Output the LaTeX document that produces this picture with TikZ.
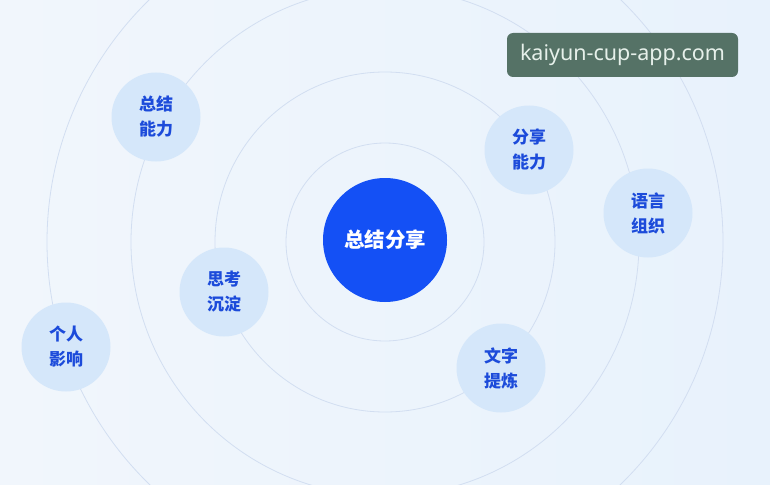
\documentclass[tikz,border=0pt]{standalone}
\usepackage{fontspec}
\setmainfont{Noto Sans}
\newfontfamily\cjk{Noto Sans CJK SC}
\usetikzlibrary{shapes.geometric}
\definecolor{bgA}{HTML}{F1F6FC}
\definecolor{bgB}{HTML}{E8F2FC}
\definecolor{ringc}{HTML}{D2DEF1}
\definecolor{coreblue}{HTML}{1450F5}
\definecolor{satfill}{HTML}{D5E7FA}
\definecolor{sattext}{HTML}{1C4BDA}
\definecolor{wmfill}{HTML}{557266}
\definecolor{wmtext}{HTML}{E6F0EA}
\tikzset{
  ring/.style={draw=ringc, line width=0.8pt},
  sat/.style={circle, fill=satfill, minimum size=89pt, inner sep=0pt,
    text=sattext, font=\cjk\bfseries\fontsize{17}{25}\selectfont, align=center},
  core/.style={circle, fill=coreblue, minimum size=124pt, inner sep=0pt,
    text=white, font=\cjk\bfseries\fontsize{20.5}{24}\selectfont},
  wm/.style={fill=wmfill, rounded corners=6pt, text=wmtext,
    font=\fontsize{21.5}{24}\selectfont, minimum width=231pt, minimum height=44pt, inner sep=0pt}
}
\begin{document}
\begin{tikzpicture}[x=1pt,y=-1pt]
\useasboundingbox (0,0) rectangle (770,484);
\shade[left color=bgA, right color=bgB] (0,0) rectangle (770,484);
\begin{scope}
\clip (0,0) rectangle (770,484);
\coordinate (c) at (385,242);
\draw[ring] (c) circle[radius=99pt];
\draw[ring] (c) circle[radius=170pt];
\draw[ring] (c) circle[radius=254pt];
\draw[ring] (c) circle[radius=338pt];
\end{scope}
\node[core] (core) at (385,240) {总结分享};
\node[sat] (s1) at (156,117) {总结\\能力};
\node[sat] (s2) at (529,150) {分享\\能力};
\node[sat] (s3) at (648,213) {语言\\组织};
\node[sat] (s4) at (224,292) {思考\\沉淀};
\node[sat] (s5) at (66,347) {个人\\影响};
\node[sat] (s6) at (501,368) {文字\\提炼};
\node[wm] (wm) at (622.5,55) {kaiyun-cup-app.com};
\end{tikzpicture}
\end{document}
